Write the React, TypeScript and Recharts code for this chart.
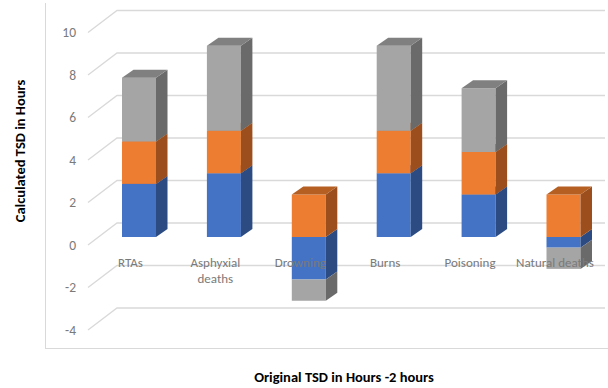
import React from 'react';
import { BarChart, Bar, XAxis, YAxis, CartesianGrid } from 'recharts';

// Time-since-death estimates, stacked per cause of death
const categories = ['RTAs', 'Asphyxial deaths', 'Drowning', 'Burns', 'Poisoning', 'Natural deaths'];
const series1 = [2.5, 3, -2, 3, 2, -0.5];
const series2 = [2, 2, 2, 2, 2, 2];
const series3 = [3, 4, -1, 4, 3, -1];
const yTicks = [-4, -2, 0, 2, 4, 6, 8, 10];

const data = categories.map((name, i) => ({
  name,
  s1: series1[i],
  s2: series2[i],
  s3: series3[i],
}));

const FONT = 'Carlito, Calibri, Lato, sans-serif';
const GRID = '#d9d9d9';
const TICK = '#7a7a7a';

// depth of the pseudo-3D boxes
const DX = 11.5;
const DY = 8;

// front face, right side and top face of one stacked segment
function boxShape(front: string, side: string, top: string, key: string) {
  return (props: any) => {
    const { x, y, width, height, payload } = props;
    const h = Math.abs(height);
    const y0 = height < 0 ? y + height : y;
    const x1 = x + width;
    const v = payload[key];
    return (
      <g>
        <rect x={x} y={y0} width={width} height={h} fill={front} />
        <polygon
          points={`${x1},${y0} ${x1 + DX},${y0 - DY} ${x1 + DX},${y0 + h - DY} ${x1},${y0 + h}`}
          fill={side}
        />
        {v > 0 && (
          <polygon
            points={`${x},${y0} ${x + DX},${y0 - DY} ${x1 + DX},${y0 - DY} ${x1},${y0}`}
            fill={top}
          />
        )}
      </g>
    );
  };
}

// gridline runs up the side wall, then across the back wall
const gridLine = (props: any) => {
  const y = props.y1;
  return (
    <path
      key={`grid-${props.index}`}
      d={`M88,${y + 8} L117,${y - 14} L605,${y - 14}`}
      stroke={GRID}
      strokeWidth={1.3}
      fill="none"
    />
  );
};

const YTick = (props: any) => {
  const { y, payload } = props;
  return (
    <text x={76} y={y + 8} textAnchor="end" dominantBaseline="central" fill={TICK} fontSize={13.5} fontFamily={FONT}>
      {payload.value}
    </text>
  );
};

// long category names wrap onto two lines
const XTick = (props: any) => {
  const { x, payload } = props;
  const label = String(payload.value);
  const lines = label.length > 15 ? label.split(' ') : [label];
  const cx = x - 9;
  return (
    <g>
      {lines.map((l, i) => (
        <text
          key={i}
          x={cx}
          y={262 + i * 16}
          textAnchor="middle"
          dominantBaseline="central"
          fill={TICK}
          fontSize={13}
          fontFamily={FONT}
        >
          {l}
        </text>
      ))}
    </g>
  );
};

export default function App() {
  return (
    <div style={{ position: 'absolute', left: 0, top: 0, width: 608, height: 388, fontFamily: FONT, background: '#fff' }}>
      <div
        style={{
          position: 'absolute',
          left: 45,
          top: 3,
          width: 570,
          height: 345,
          borderLeft: `1px solid ${GRID}`,
          borderBottom: `1px solid ${GRID}`,
        }}
      />
      <div style={{ position: 'absolute', left: 0, top: 0 }}>
        <BarChart
          width={608}
          height={388}
          data={data}
          stackOffset="sign"
          margin={{ top: 24.5, right: 1.6, bottom: 36, left: 0 }}
        >
          <CartesianGrid vertical={false} horizontal={gridLine} />
          <XAxis dataKey="name" axisLine={false} tickLine={false} height={30} interval={0} tick={XTick} />
          <YAxis width={97} domain={[-4, 10]} ticks={yTicks} axisLine={false} tickLine={false} tick={YTick} />
          <Bar dataKey="s1" stackId="a" barSize={34} isAnimationActive={false} shape={boxShape('#4472c4', '#2b4b82', '#3860a8', 's1')} />
          <Bar dataKey="s2" stackId="a" barSize={34} isAnimationActive={false} shape={boxShape('#ed7d31', '#9c4f1d', '#b65f22', 's2')} />
          <Bar dataKey="s3" stackId="a" barSize={34} isAnimationActive={false} shape={boxShape('#a5a5a5', '#6a6a6a', '#808080', 's3')} />
        </BarChart>
      </div>
      <div
        style={{
          position: 'absolute',
          left: 20,
          top: 151,
          transform: 'translate(-50%, -50%) rotate(-90deg)',
          whiteSpace: 'nowrap',
          fontWeight: 'bold',
          fontSize: 14.5,
          color: '#000',
        }}
      >
        Calculated TSD in Hours
      </div>
      <div
        style={{
          position: 'absolute',
          left: 344,
          top: 377,
          transform: 'translate(-50%, -50%)',
          whiteSpace: 'nowrap',
          fontWeight: 'bold',
          fontSize: 14.5,
          color: '#000',
        }}
      >
        Original TSD in Hours -2 hours
      </div>
    </div>
  );
}
